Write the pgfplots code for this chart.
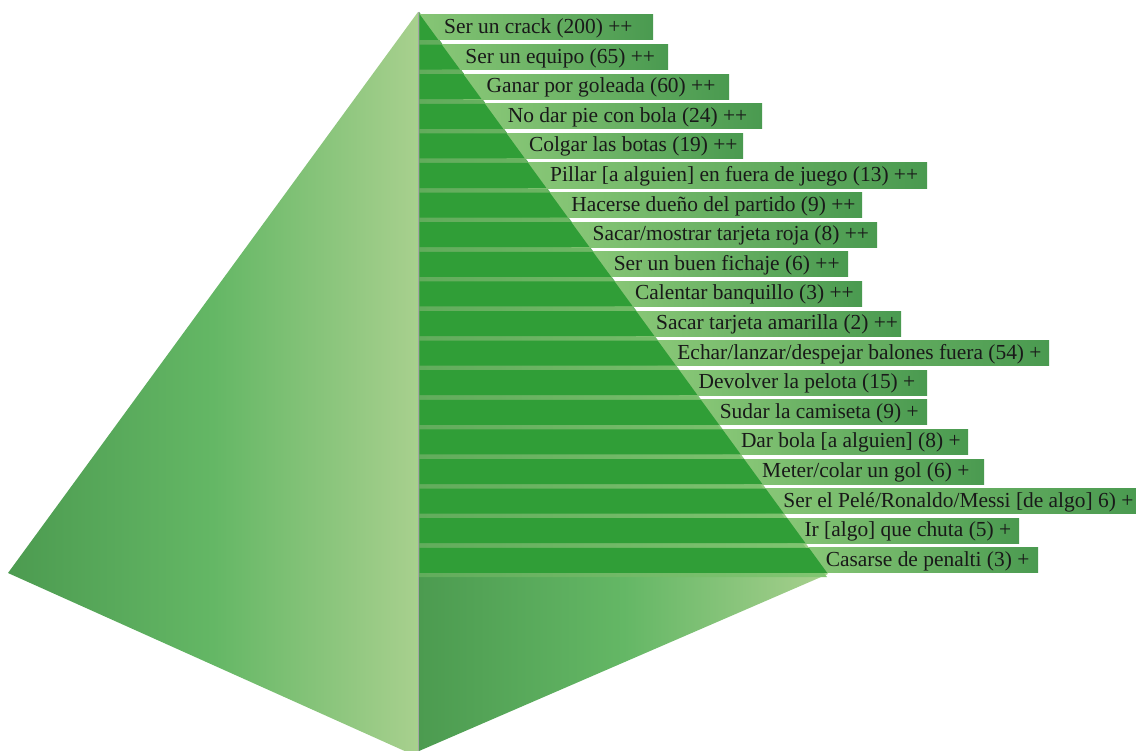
\documentclass[border=0pt]{standalone}
\usepackage{pgfplots}
\pgfplotsset{compat=1.18}
\usepackage{fontspec}
\setmainfont{Liberation Serif}
\definecolor{faceD}{RGB}{76,155,80}
\definecolor{faceM}{RGB}{100,183,101}
\definecolor{faceL}{RGB}{168,208,142}
\definecolor{inner}{RGB}{48,158,55}
\definecolor{gapL}{RGB}{98,172,92}
\definecolor{gapR}{RGB}{130,198,114}
\definecolor{boxL}{RGB}{135,198,118}
\definecolor{boxR}{RGB}{74,154,80}
\definecolor{txt}{RGB}{25,25,25}
\newcommand\pyrow[3]{%
  \pgfmathsetmacro\yt{15+29.6*#1}%
  \pgfmathsetmacro\yb{\yt+25}%
  \pgfmathsetmacro\xt{418+0.7295*(\yt-12)}%
  \pgfmathsetmacro\xb{418+0.7295*(\yb-12)}%
  \pgfmathsetmacro\xs{444+21.2*#1}%
  \pgfmathsetmacro\ybase{\yt+18.5}%
  \edef\tmp{%
   \noexpand\addplot[draw=none, left color=boxL, right color=boxR] coordinates {(\xt,\yt) (#2,\yt) (#2,\yb) (\xt,\yb)} -- cycle;
   \noexpand\addplot[draw=none, fill=inner] coordinates {(419.5,\yt) (\xt,\yt) (\xb,\yb) (419.5,\yb)} -- cycle;
   \noexpand\node[anchor=base west, text=txt, inner sep=0pt, font=\noexpand\fontsize{21.5}{24}\noexpand\selectfont] at (axis cs:\xs,\ybase) {\unexpanded{#3}};
  }\tmp
}
\begin{document}
\begin{tikzpicture}
\begin{axis}[width=1136bp, height=751bp, scale only axis,
  xmin=0, xmax=1136, ymin=0, ymax=751, y dir=reverse,
  hide axis, clip=false]
% left face
\addplot[draw=none, left color=faceD, right color=faceL, middle color=faceM]
  coordinates {(418,12) (8,573) (418,757)} -- cycle;
% right face
\addplot[draw=none, left color=faceD, right color=faceL, middle color=faceM]
  coordinates {(419,12) (828,574) (419,751)} -- cycle;
% gap colour behind the rows
\addplot[draw=none, left color=gapL, right color=gapR]
  coordinates {(419,12) (827,577) (419,577)} -- cycle;
% centre line
\addplot[draw=gray!70, line width=0.8pt] coordinates {(418.5,12) (418.5,751)};
\pyrow{0}{653}{Ser un crack (200) ++}
\pyrow{1}{668}{Ser un equipo (65) ++}
\pyrow{2}{729}{Ganar por goleada (60) ++}
\pyrow{3}{762}{No dar pie con bola (24) ++}
\pyrow{4}{743}{Colgar las botas (19) ++}
\pyrow{5}{927}{Pillar [a alguien] en fuera de juego (13) ++}
\pyrow{6}{862}{Hacerse dueño del partido (9) ++}
\pyrow{7}{877}{Sacar/mostrar tarjeta roja (8) ++}
\pyrow{8}{848}{Ser un buen fichaje (6) ++}
\pyrow{9}{862}{Calentar banquillo (3) ++}
\pyrow{10}{901}{Sacar tarjeta amarilla (2) ++}
\pyrow{11}{1049}{Echar/lanzar/despejar balones fuera (54) +}
\pyrow{12}{927}{Devolver la pelota (15) +}
\pyrow{13}{927}{Sudar la camiseta (9) +}
\pyrow{14}{968}{Dar bola [a alguien] (8) +}
\pyrow{15}{984}{Meter/colar un gol (6) +}
\pyrow{16}{1136}{Ser el Pelé/Ronaldo/Messi [de algo] 6) +}
\pyrow{17}{1019}{Ir [algo] que chuta (5) +}
\pyrow{18}{1038}{Casarse de penalti (3) +}
\end{axis}
\pgfresetboundingbox
\path[use as bounding box] (current axis.south west) rectangle (current axis.north east);
\end{tikzpicture}
\end{document}
